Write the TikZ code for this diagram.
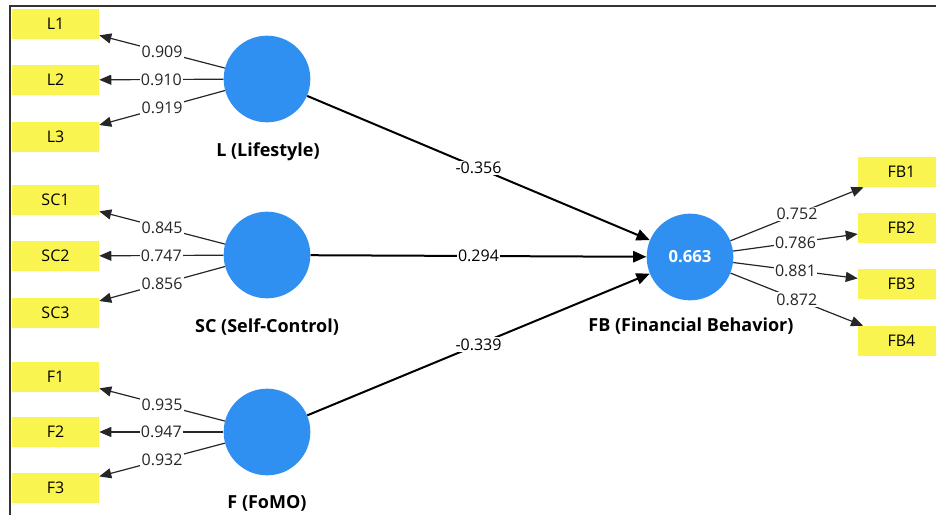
\documentclass[tikz,border=0pt]{standalone}
\usepackage{fontspec}
\setmainfont{Open Sans}
\usepackage{tikz}
\usetikzlibrary{arrows.meta}
\definecolor{lvblue}{RGB}{48,144,242}
\definecolor{indyellow}{RGB}{250,244,80}
\tikzset{
  latent/.style={circle, fill=lvblue, draw=none, inner sep=0pt, minimum size=65pt},
  indicator/.style={rectangle, fill=indyellow, draw=none, inner sep=0pt, minimum width=65.25pt, minimum height=22.5pt, font=\fontsize{12}{14}\selectfont},
  lvname/.style={font=\fontsize{13.5}{15}\selectfont\bfseries},
  coef/.style={fill=white, inner sep=1pt, font=\fontsize{12}{14}\selectfont},
  load/.style={line width=0.9pt, black!85, -{Triangle[length=9pt,width=7.5pt]}},
  path/.style={line width=1.5pt, black, -{Triangle[length=10pt,width=8.5pt]}},
}

\begin{document}
\begin{tikzpicture}[x=0.75pt,y=-0.75pt]
\useasboundingbox (0,0) rectangle (936,515);
\clip (0,0) rectangle (936,515);
\draw[line width=1.5pt, black!80] (10,515) -- (10,6) -- (936,6);
\node[latent] (L) at (267,79) {};
\node[latent] (SC) at (267,255) {};
\node[latent] (F) at (267,432) {};
\node[latent, text=white, font=\fontsize{12.5}{14}\selectfont\bfseries] (FB) at (690,257) {0.663};
\node[lvname] at (268,152) {L (Lifestyle)};
\node[lvname] at (267,327) {SC (Self-Control)};
\node[lvname] at (267,503) {F (FoMO)};
\node[lvname] at (691,326) {FB (Financial Behavior)};
\node[indicator] (L1) at (55.5,24) {L1};
\node[indicator] (L2) at (55.5,80) {L2};
\node[indicator] (L3) at (55.5,137) {L3};
\node[indicator] (SC1) at (55.5,200) {SC1};
\node[indicator] (SC2) at (55.5,256) {SC2};
\node[indicator] (SC3) at (55.5,313) {SC3};
\node[indicator] (F1) at (55.5,377) {F1};
\node[indicator] (F2) at (55.5,432) {F2};
\node[indicator] (F3) at (55.5,488) {F3};
\node[indicator] (FB1) at (901.5,172) {FB1};
\node[indicator] (FB2) at (901.5,228) {FB2};
\node[indicator] (FB3) at (901.5,284) {FB3};
\node[indicator] (FB4) at (901.5,341) {FB4};
\draw[load] (L) -- node[coef] {0.909} (L1);
\draw[load] (L) -- node[coef] {0.910} (L2);
\draw[load] (L) -- node[coef] {0.919} (L3);
\draw[load] (SC) -- node[coef] {0.845} (SC1);
\draw[load] (SC) -- node[coef] {0.747} (SC2);
\draw[load] (SC) -- node[coef] {0.856} (SC3);
\draw[load] (F) -- node[coef] {0.935} (F1);
\draw[load] (F) -- node[coef] {0.947} (F2);
\draw[load] (F) -- node[coef] {0.932} (F3);
\draw[load] (FB) -- node[coef] {0.752} (FB1);
\draw[load] (FB) -- node[coef] {0.786} (FB2);
\draw[load] (FB) -- node[coef] {0.881} (FB3);
\draw[load] (FB) -- node[coef] {0.872} (FB4);
\draw[path] (L) -- node[coef] {-0.356} (FB);
\draw[path] (SC) -- node[coef] {0.294} (FB);
\draw[path] (F) -- node[coef] {-0.339} (FB);
\end{tikzpicture}
\end{document}
